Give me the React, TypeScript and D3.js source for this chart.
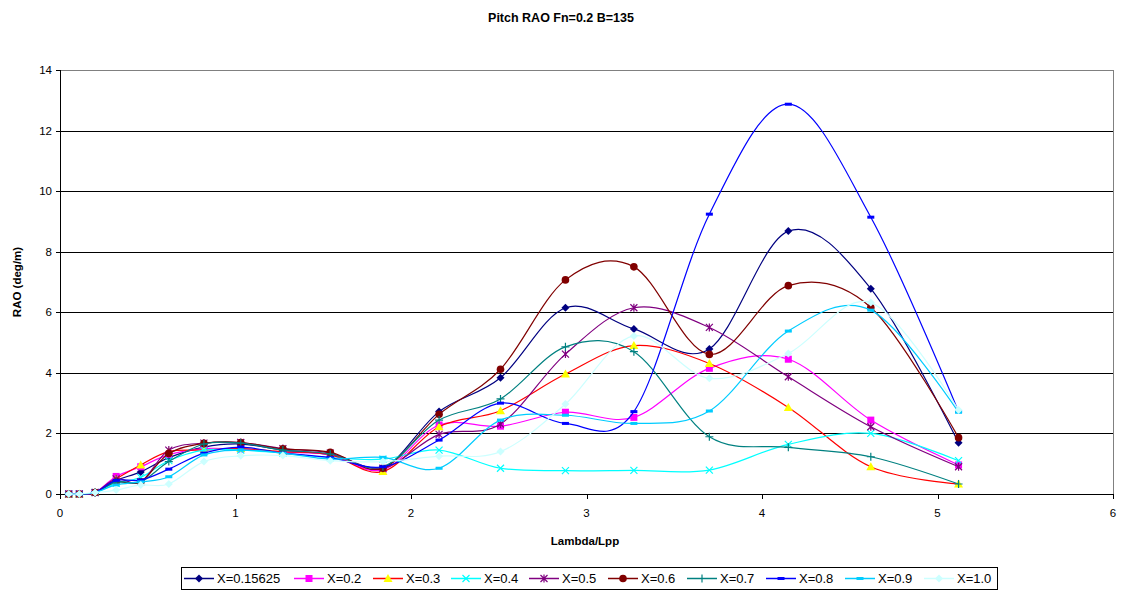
import React from "react";
import * as d3 from "d3";

const lambdas = [0.05, 0.11, 0.2, 0.32, 0.46, 0.62, 0.82, 1.03, 1.27, 1.54, 1.84, 2.16, 2.51, 2.88, 3.27, 3.7, 4.15, 4.62, 5.12];

const sX015625 = [0, 0, 0.05, 0.45, 0.73, 1.2, 1.55, 1.65, 1.45, 1.3, 0.85, 2.72, 3.84, 6.15, 5.45, 4.79, 8.68, 6.78, 1.69];
const sX02 = [0, 0, 0.05, 0.58, 0.9, 1.3, 1.5, 1.48, 1.38, 1.3, 0.8, 2.28, 2.24, 2.7, 2.53, 4.15, 4.45, 2.44, 0.96];
const sX03 = [0, 0, 0.05, 0.5, 0.96, 1.4, 1.45, 1.5, 1.4, 1.3, 0.74, 2.22, 2.75, 3.96, 4.9, 4.31, 2.86, 0.9, 0.33];
const sX04 = [0, 0, 0.05, 0.35, 0.55, 1.1, 1.45, 1.45, 1.35, 1.2, 1.15, 1.45, 0.85, 0.77, 0.78, 0.79, 1.64, 2.0, 1.1];
const sX05 = [0, 0, 0.05, 0.5, 0.4, 1.45, 1.68, 1.7, 1.5, 1.35, 0.85, 1.97, 2.31, 4.62, 6.15, 5.5, 3.87, 2.22, 0.9];
const sX06 = [0, 0, 0.05, 0.4, 0.4, 1.34, 1.67, 1.7, 1.49, 1.38, 0.85, 2.63, 4.12, 7.07, 7.5, 4.61, 6.88, 6.16, 1.86];
const sX07 = [0, 0, 0.05, 0.4, 0.4, 1.07, 1.65, 1.68, 1.45, 1.32, 0.9, 2.44, 3.14, 4.86, 4.7, 1.89, 1.54, 1.23, 0.33];
const sX08 = [0, 0, 0.05, 0.45, 0.46, 0.82, 1.35, 1.55, 1.35, 1.2, 0.9, 1.78, 3.0, 2.33, 2.72, 9.24, 12.87, 9.14, 2.72];
const sX09 = [0, 0, 0.05, 0.3, 0.4, 0.57, 1.29, 1.45, 1.35, 1.15, 1.21, 0.85, 2.44, 2.6, 2.33, 2.74, 5.38, 6.07, 2.7];
const sX10 = [0, 0, 0.05, 0.13, 0.3, 0.33, 1.07, 1.26, 1.27, 1.1, 1.07, 1.25, 1.4, 2.97, 5.22, 3.82, 4.64, 6.32, 2.77];

const seriesNames = ["X=0.15625", "X=0.2", "X=0.3", "X=0.4", "X=0.5", "X=0.6", "X=0.7", "X=0.8", "X=0.9", "X=1.0"];
const seriesValues = [sX015625, sX02, sX03, sX04, sX05, sX06, sX07, sX08, sX09, sX10];
const lineColors = ["#000080", "#FF00FF", "#FF0000", "#00FFFF", "#800080", "#800000", "#008080", "#0000FF", "#00CCFF", "#CCFFFF"];
const markerColors = ["#000080", "#FF00FF", "#FFFF00", "#00FFFF", "#800080", "#800000", "#008080", "#0000FF", "#00CCFF", "#CCFFFF"];
const markerTypes = ["diamond", "square", "triangle", "x", "star", "circle", "plus", "dash", "dash", "diamond"];

const xTicks = [0, 1, 2, 3, 4, 5, 6];
const yTicks = [0, 2, 4, 6, 8, 10, 12, 14];

const W = 1122, H = 594;
const left = 60, right = 1113, top = 70, bottom = 494;

// legend sample centres (layout)
const legendCenters = [199, 309, 388, 466, 544, 623, 702, 781, 860, 939];

function Marker({ type, x, y, color }: { type: string; x: number; y: number; color: string }) {
  const s = 3.5;
  switch (type) {
    case "diamond":
      return <path d={`M${x},${y - 4}L${x + 4},${y}L${x},${y + 4}L${x - 4},${y}Z`} fill={color} />;
    case "square":
      return <rect x={x - 3.5} y={y - 3.5} width={7} height={7} fill={color} />;
    case "triangle":
      return <path d={`M${x},${y - 4.5}L${x + 4.5},${y + 3.5}L${x - 4.5},${y + 3.5}Z`} fill={color} />;
    case "circle":
      return <circle cx={x} cy={y} r={3.8} fill={color} />;
    case "x":
      return <path d={`M${x - s},${y - s}L${x + s},${y + s}M${x - s},${y + s}L${x + s},${y - s}`} stroke={color} strokeWidth={1.2} />;
    case "star":
      return <path d={`M${x - s},${y - s}L${x + s},${y + s}M${x - s},${y + s}L${x + s},${y - s}M${x},${y - s - 0.5}L${x},${y + s + 0.5}`} stroke={color} strokeWidth={1.2} />;
    case "plus":
      return <path d={`M${x - 4},${y}L${x + 4},${y}M${x},${y - 4}L${x},${y + 4}`} stroke={color} strokeWidth={1.2} />;
    case "dash":
      return <rect x={x - 3.5} y={y - 1.5} width={7} height={3} fill={color} />;
    default:
      return null;
  }
}

export default function App() {
  const x = d3.scaleLinear().domain([0, 6]).range([left, right]);
  const y = d3.scaleLinear().domain([0, 14]).range([bottom, top]);
  const line = d3
    .line<[number, number]>()
    .x((d) => x(d[0]))
    .y((d) => y(d[1]))
    .curve(d3.curveCardinal.tension(0));

  const font = "'Liberation Sans', Arial, sans-serif";

  return (
    <svg width={W} height={H} style={{ position: "absolute", left: 0, top: 0, background: "#fff" }} fontFamily={font}>
      <rect x={0} y={0} width={W} height={H} fill="#fff" />
      <text x={561} y={22} textAnchor="middle" fontSize={12.5} fontWeight="bold">
        Pitch RAO Fn=0.2 B=135
      </text>
      {/* gridlines */}
      {yTicks.filter((t) => t > 0).map((t) => (
        <line key={t} x1={left} x2={right} y1={Math.round(y(t)) + 0.5} y2={Math.round(y(t)) + 0.5} stroke={t === 14 ? "#808080" : "#000"} strokeWidth={1} />
      ))}
      <line x1={right + 0.5} x2={right + 0.5} y1={top} y2={bottom} stroke="#808080" />
      {/* axes */}
      <line x1={left + 0.5} x2={left + 0.5} y1={top} y2={bottom} stroke="#000" />
      <line x1={left} x2={right} y1={bottom + 0.5} y2={bottom + 0.5} stroke="#000" />
      {yTicks.map((t) => (
        <g key={t}>
          <line x1={left - 4} x2={left} y1={Math.round(y(t)) + 0.5} y2={Math.round(y(t)) + 0.5} stroke="#000" />
          <text x={left - 8} y={y(t) + 4} textAnchor="end" fontSize={11.5}>
            {t}
          </text>
        </g>
      ))}
      {xTicks.map((t) => (
        <g key={t}>
          <line x1={Math.round(x(t)) + 0.5} x2={Math.round(x(t)) + 0.5} y1={bottom} y2={bottom + 5} stroke="#000" />
          <text x={x(t)} y={bottom + 23} textAnchor="middle" fontSize={11.5}>
            {t}
          </text>
        </g>
      ))}
      <text x={585} y={545} textAnchor="middle" fontSize={11.5} fontWeight="bold">
        Lambda/Lpp
      </text>
      <text transform={`translate(21,${(top + bottom) / 2}) rotate(-90)`} textAnchor="middle" fontSize={11.5} fontWeight="bold">
        RAO (deg/m)
      </text>
      {/* series */}
      {seriesValues.map((vals, i) => {
        const pts = vals.map((v, k) => [lambdas[k], v] as [number, number]);
        return (
          <g key={i}>
            <path d={line(pts) || ""} fill="none" stroke={lineColors[i]} strokeWidth={1.2} />
            {pts.map((p, k) => (
              <Marker key={k} type={markerTypes[i]} x={x(p[0])} y={y(p[1])} color={markerColors[i]} />
            ))}
          </g>
        );
      })}
      {/* legend */}
      <rect x={181.5} y={567.5} width={816} height={22} fill="#fff" stroke="#000" />
      {seriesNames.map((name, i) => {
        const c = legendCenters[i];
        return (
          <g key={i}>
            <line x1={c - 15} x2={c + 15} y1={578.5} y2={578.5} stroke={lineColors[i]} strokeWidth={1.5} />
            <Marker type={markerTypes[i]} x={c} y={578.5} color={markerColors[i]} />
            <text x={c + 18} y={583} fontSize={13}>
              {name}
            </text>
          </g>
        );
      })}
    </svg>
  );
}
